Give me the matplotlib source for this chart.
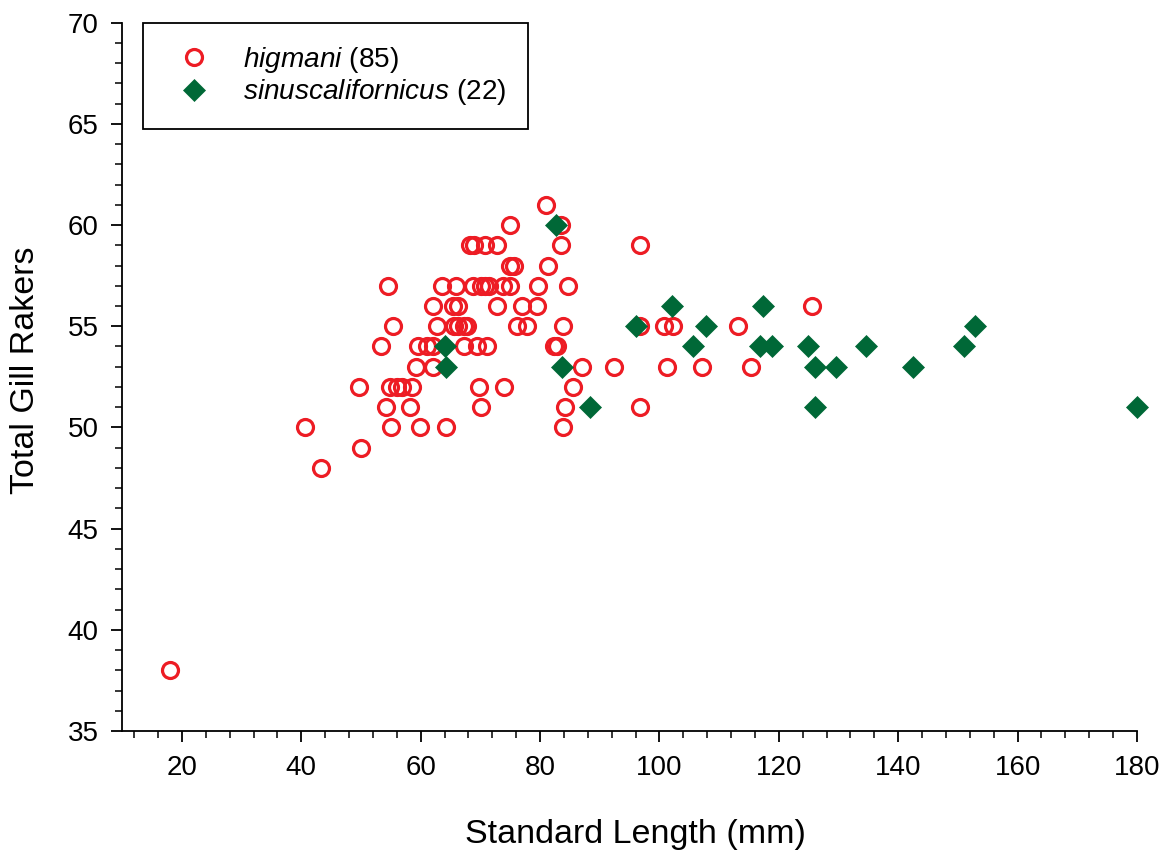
import matplotlib
matplotlib.use("Agg")
import matplotlib.pyplot as plt
from matplotlib.ticker import MultipleLocator
import numpy as np

plt.rcParams['font.family'] = ['Liberation Sans', 'DejaVu Sans']
plt.rcParams['mathtext.fontset'] = 'custom'
plt.rcParams['mathtext.rm'] = 'Liberation Sans'
plt.rcParams['mathtext.it'] = 'Liberation Sans:italic'

# higmani (red open circles): standard length, gill rakers
hig_sl = [18.0, 40.6, 43.3, 49.7, 50.0, 53.3, 54.2, 54.5, 54.9, 55.0,
          55.3, 56.0, 56.8, 58.2, 58.5, 59.2, 59.6, 59.8, 61.0, 62.0,
          62.1, 62.1, 62.7, 63.6, 64.3, 65.4, 65.5, 65.9, 66.3, 66.3,
          67.2, 67.2, 67.7, 68.3, 68.8, 69.0, 69.4, 69.8, 70.1, 70.1,
          70.7, 70.8, 71.1, 71.4, 72.7, 72.8, 73.8, 74.0, 75.0, 75.0,
          75.0, 75.6, 76.1, 77.0, 77.8, 79.5, 79.7, 81.0, 81.3, 82.3,
          82.8, 83.5, 83.5, 83.8, 83.9, 84.2, 84.6, 85.5, 87.0, 92.4,
          96.7, 96.8, 96.8, 100.7, 101.2, 102.3, 107.2, 113.1, 115.3, 125.6]
hig_gr = [38, 50, 48, 52, 49, 54, 51, 57, 52, 50,
          55, 52, 52, 51, 52, 53, 54, 50, 54, 56,
          54, 53, 55, 57, 50, 56, 55, 57, 56, 55,
          55, 54, 55, 59, 57, 59, 54, 52, 57, 51,
          59, 57, 54, 57, 59, 56, 57, 52, 57, 60,
          58, 58, 55, 56, 55, 56, 57, 61, 58, 54,
          54, 60, 59, 55, 50, 51, 57, 52, 53, 53,
          59, 55, 51, 55, 53, 55, 53, 55, 53, 56]

# sinuscalifornicus (green diamonds)
sin_sl = [64.1, 64.2, 82.7, 83.7, 88.3, 96.0, 102.1, 105.6, 107.8, 116.9,
          117.4, 118.9, 124.9, 126.1, 126.1, 129.5, 134.6, 142.5, 151.0, 152.8,
          180.0]
sin_gr = [54, 53, 60, 53, 51, 55, 56, 54, 55, 54,
          56, 54, 54, 53, 51, 53, 54, 53, 54, 55,
          51]

red = '#ED1C24'
green = '#006837'

W, H = 1169, 857
fig = plt.figure(figsize=(W/100, H/100), dpi=100)
ax = fig.add_axes([122.3/W, 1-731/H, (1137-122.3)/W, (731-22.7)/H])

ax.plot(hig_sl, hig_gr, 'o', ms=11.5, mfc='none', mec=red, mew=2.3,
        linestyle='none', clip_on=False, label=r'$\mathit{higmani}$ (85)', zorder=3)
ax.plot(sin_sl, sin_gr, 'D', ms=11.5, mfc=green, mec=green, mew=0.5,
        linestyle='none', clip_on=False, label=r'$\mathit{sinuscalifornicus}$ (22)', zorder=4)

ax.set_xlim(10, 180)
ax.set_ylim(35, 70)
ax.xaxis.set_major_locator(MultipleLocator(20))
ax.xaxis.set_minor_locator(MultipleLocator(4))
ax.yaxis.set_major_locator(MultipleLocator(5))
ax.yaxis.set_minor_locator(MultipleLocator(1))

for s in ['top', 'right']:
    ax.spines[s].set_visible(False)
for s in ['left', 'bottom']:
    ax.spines[s].set_linewidth(1.3)

ax.tick_params(which='major', direction='out', length=8, width=1.3, labelsize=20, pad=9)
ax.tick_params(which='minor', direction='out', length=5, width=1.1)

ax.set_xlabel('Standard Length (mm)', fontsize=24.5)
ax.set_ylabel('Total Gill Rakers', fontsize=24.5)
# label centres in pixels, converted to axes fraction
ax_w, ax_h = 1137-122.3, 731-22.7
ax.xaxis.set_label_coords((635-122.3)/ax_w, -(835-731)/ax_h)
ax.yaxis.set_label_coords(-(122.3-26)/ax_w, (731-370)/ax_h)
ax.xaxis.label.set_va('center')
ax.yaxis.label.set_va('center')

leg = ax.legend(loc='upper left', bbox_to_anchor=(143/W, 1-22.7/H),
                bbox_transform=fig.transFigure, borderaxespad=0,
                fontsize=20.2, frameon=True, fancybox=False, edgecolor='black',
                borderpad=0.78, handlelength=2.1, handletextpad=0.68,
                labelspacing=0.1, numpoints=1)
leg.get_frame().set_linewidth(1.3)
leg.get_frame().set_alpha(None)

fig.savefig('out.png', dpi=100)
